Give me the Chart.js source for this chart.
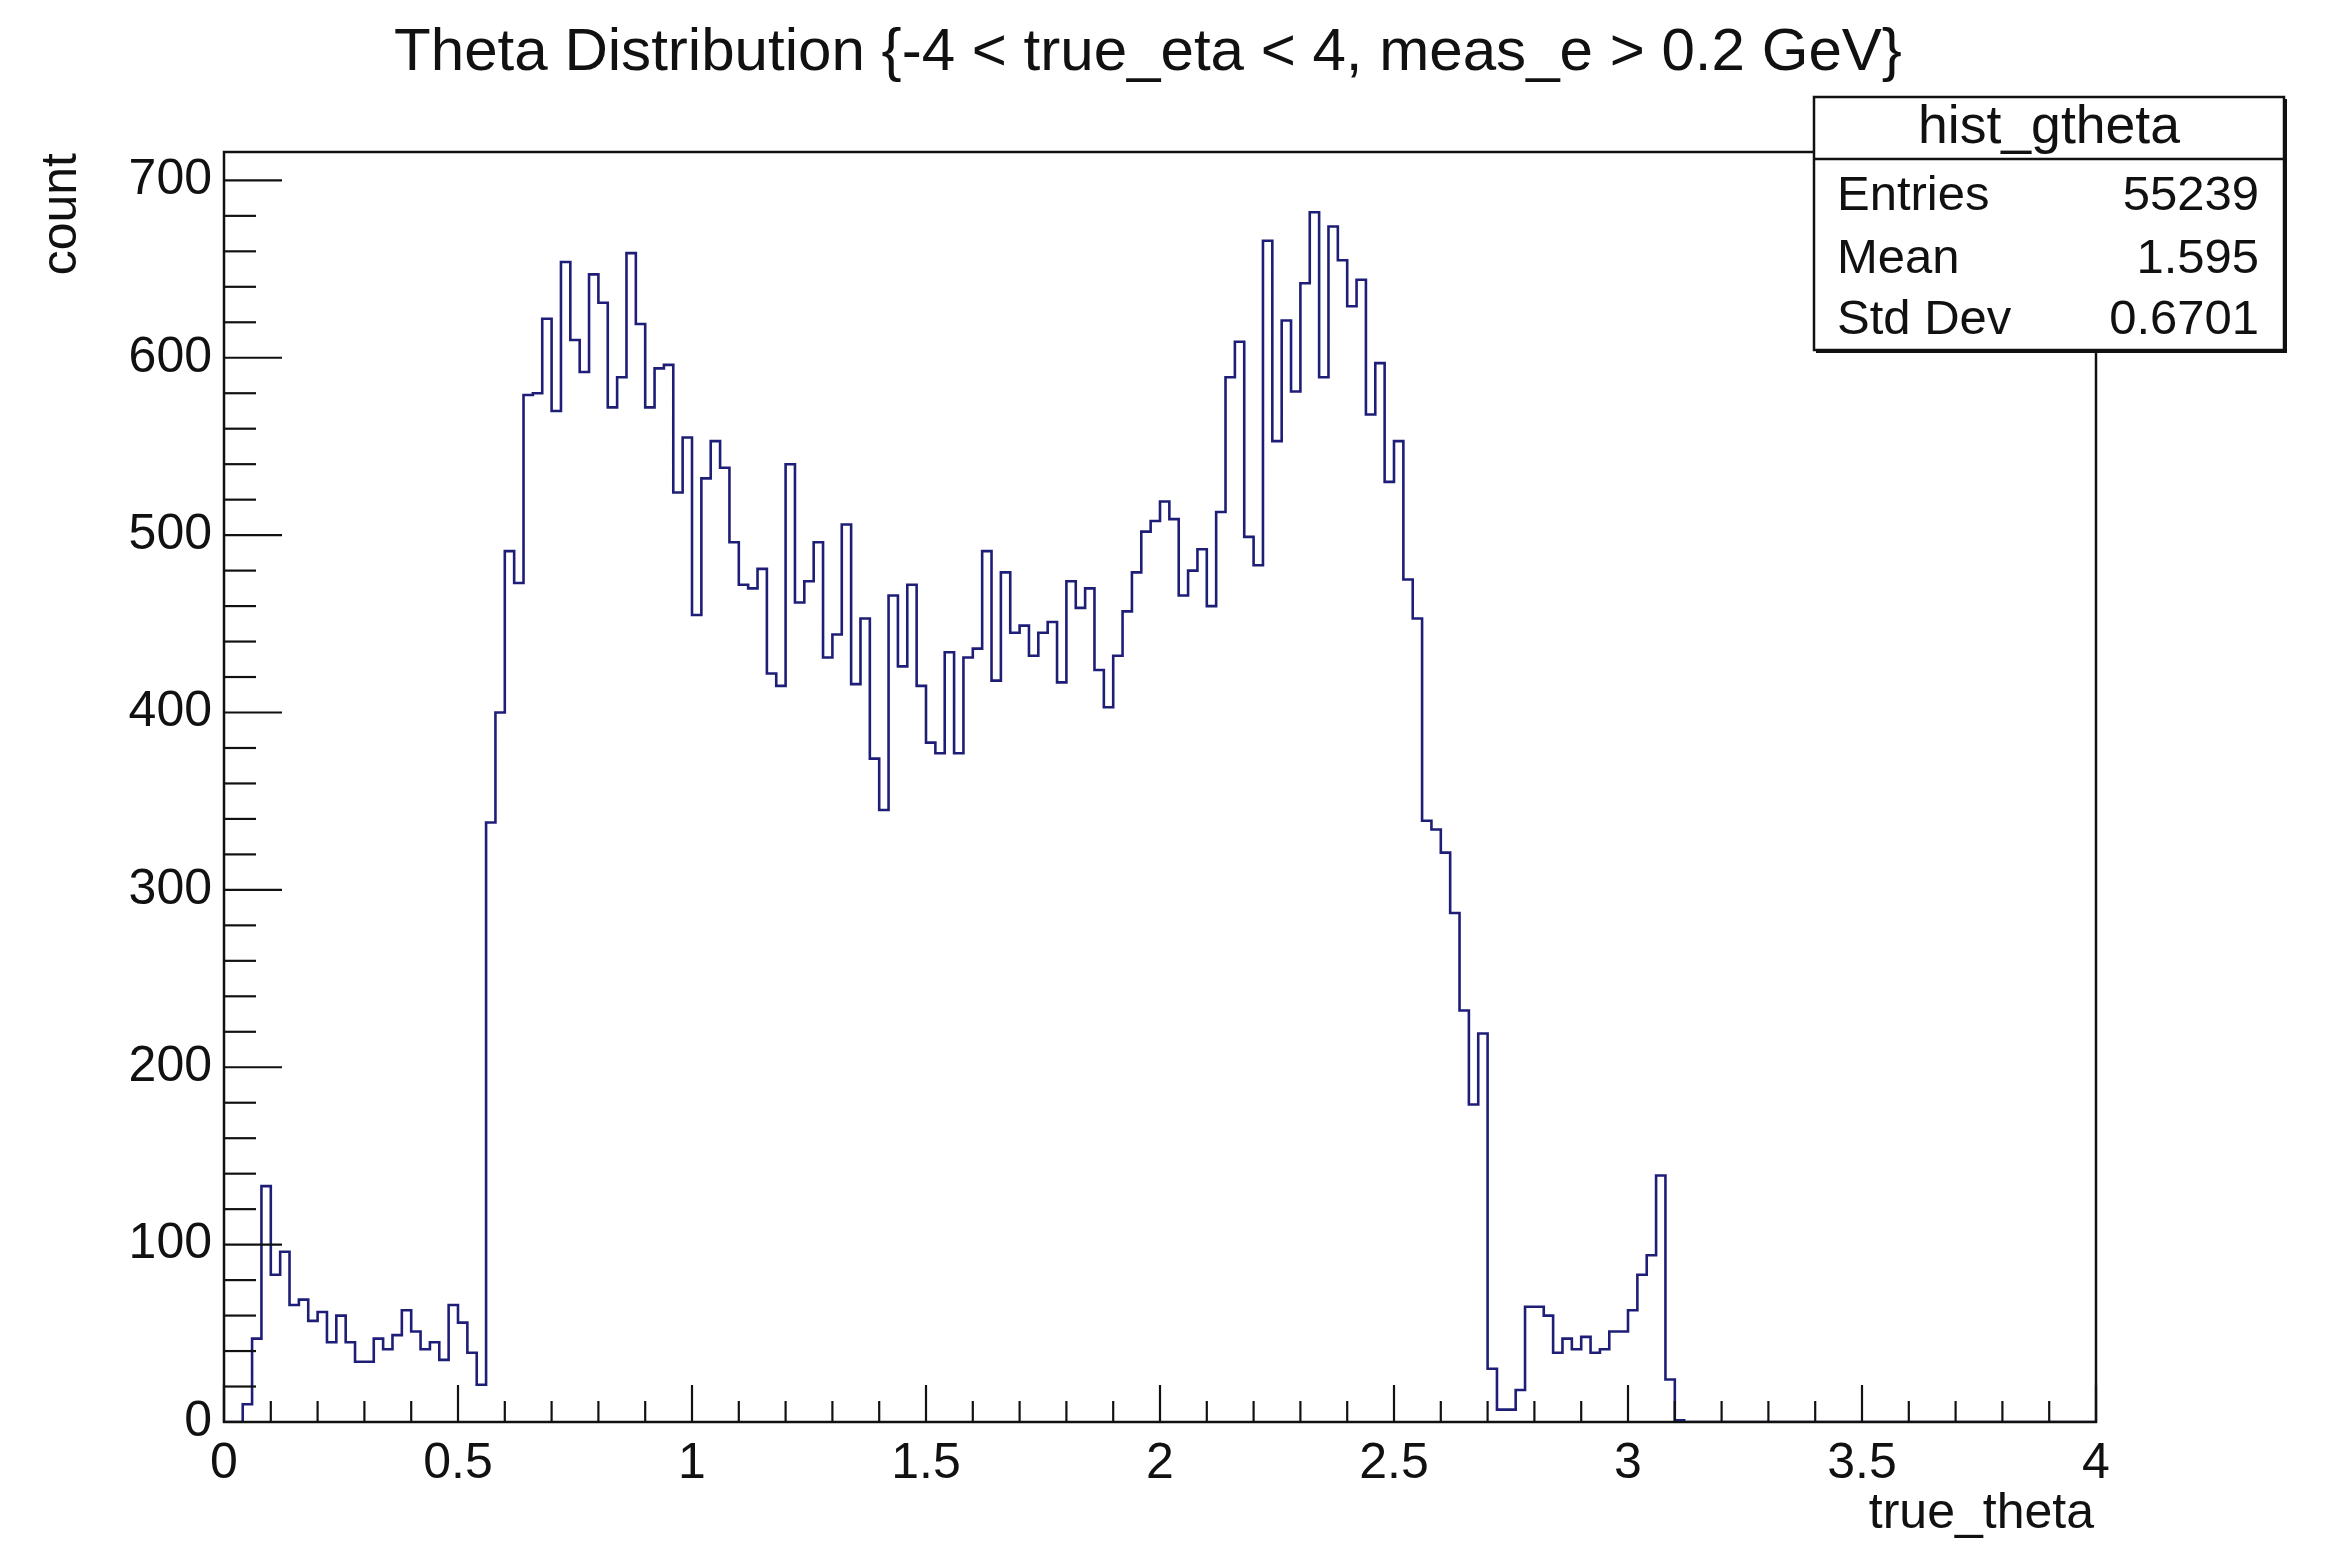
<!DOCTYPE html>
<html>
<head>
<meta charset="utf-8">
<script src="https://cdn.jsdelivr.net/npm/chart.js@4.4.1/dist/chart.umd.min.js"></script>
<style>
  html, body { margin: 0; padding: 0; background: #ffffff; }
  #wrap { width: 2330px; height: 1542px; }
</style>
</head>
<body>
<div id="wrap"><canvas id="c" width="2330" height="1542"></canvas></div>
<script>
// ---------------- data ----------------
const chartTitle = "Theta Distribution {-4 < true_eta < 4, meas_e > 0.2 GeV}";
const xAxisTitle = "true_theta";
const yAxisTitle = "count";
const histName = "hist_gtheta";
const statLabels = ["Entries", "Mean", "Std Dev"];
const statValues = ["55239", "1.595", "0.6701"];

const xMin = 0;
const xMax = 4;
const binWidth = 0.02;
const yMax = 716;
const xTickLabels = [0, 0.5, 1, 1.5, 2, 2.5, 3, 3.5, 4];
const yTickLabels = [0, 100, 200, 300, 400, 500, 600, 700];

// bin contents, bin i covers [i*binWidth, (i+1)*binWidth)
const counts = [
  0, 0, 10, 47, 133, 83, 96, 66, 69, 57,          // 0.00 - 0.18
  62, 45, 60, 45, 34, 34, 47, 41, 49, 63,         // 0.20 - 0.38
  51, 41, 45, 35, 66, 56, 39, 21, 338, 400,       // 0.40 - 0.58
  491, 473, 579, 580, 622, 570, 654, 610, 592, 647, // 0.60 - 0.78
  631, 572, 589, 659, 619, 572, 594, 596, 524, 555, // 0.80 - 0.98
  455, 532, 553, 538, 496, 472, 470, 481, 422, 415, // 1.00 - 1.18
  540, 462, 474, 496, 431, 444, 506, 416, 453, 374, // 1.20 - 1.38
  345, 466, 426, 472, 415, 383, 377, 434, 377, 431, // 1.40 - 1.58
  436, 491, 418, 479, 445, 449, 432, 445, 451, 417, // 1.60 - 1.78
  474, 459, 470, 424, 403, 432, 457, 479, 502, 508, // 1.80 - 1.98
  519, 509, 466, 480, 492, 460, 513, 589, 609, 499, // 2.00 - 2.18
  483, 666, 553, 621, 581, 642, 682, 589, 674, 655, // 2.20 - 2.38
  629, 644, 568, 597, 530, 553, 475, 453, 339, 334, // 2.40 - 2.58
  321, 287, 232, 179, 219, 30, 7, 7, 18, 65,        // 2.60 - 2.78
  65, 60, 39, 47, 41, 48, 39, 41, 51, 51,           // 2.80 - 2.98
  63, 83, 94, 139, 24, 1, 0, 0, 0, 0,               // 3.00 - 3.18
  0, 0, 0, 0, 0, 0, 0, 0, 0, 0,                     // 3.20 - 3.38
  0, 0, 0, 0, 0, 0, 0, 0, 0, 0,                     // 3.40 - 3.58
  0, 0, 0, 0, 0, 0, 0, 0, 0, 0,                     // 3.60 - 3.78
  0, 0, 0, 0, 0, 0, 0, 0, 0, 0                      // 3.80 - 3.98
];

// ---------------- build library table ----------------
const points = counts.map((c, i) => ({ x: +(xMin + i * binWidth).toFixed(4), y: c }));
points.push({ x: xMax, y: counts[counts.length - 1] });

const FONT = '"Liberation Sans", Arial, Helvetica, sans-serif';
const INK = '#111111';
const LINE = '#1e1e78';

const rootPlugin = {
  id: 'rootStyle',
  beforeDraw(chart) {
    const ctx = chart.ctx;
    ctx.save();
    ctx.fillStyle = '#ffffff';
    ctx.fillRect(0, 0, chart.width, chart.height);
    ctx.restore();
  },
  afterDraw(chart) {
    const ctx = chart.ctx;
    const xs = chart.scales.x, ys = chart.scales.y;
    const a = chart.chartArea;
    ctx.save();
    // frame
    ctx.strokeStyle = INK;
    ctx.lineWidth = 2.5;
    ctx.strokeRect(a.left, a.top, a.right - a.left, a.bottom - a.top);
    // x ticks (inside, upward)
    ctx.lineWidth = 2.2;
    for (let k = 0; k <= 40; k++) {
      const v = k * 0.1;
      const px = xs.getPixelForValue(v);
      const len = (k % 5 === 0) ? 37 : 21;
      ctx.beginPath();
      ctx.moveTo(px, a.bottom);
      ctx.lineTo(px, a.bottom - len);
      ctx.stroke();
    }
    // y ticks (inside, rightward)
    for (let v = 0; v <= yMax; v += 20) {
      const py = ys.getPixelForValue(v);
      const len = (v % 100 === 0) ? 58 : 32;
      ctx.beginPath();
      ctx.moveTo(a.left, py);
      ctx.lineTo(a.left + len, py);
      ctx.stroke();
    }
    // title (fit to reference width)
    ctx.fillStyle = INK;
    ctx.font = '100px ' + FONT;
    let w = ctx.measureText(chartTitle).width;
    let size = 100 * 1508 / w;
    ctx.font = size.toFixed(2) + 'px ' + FONT;
    ctx.textAlign = 'center';
    ctx.textBaseline = 'alphabetic';
    ctx.fillText(chartTitle, 1148, 70);

    // x axis title
    ctx.font = '50px ' + FONT;
    ctx.textAlign = 'right';
    ctx.fillText(xAxisTitle, 2094, 1528);

    // y axis title (rotated)
    ctx.save();
    ctx.translate(76, 153);
    ctx.rotate(-Math.PI / 2);
    ctx.textAlign = 'right';
    ctx.fillText(yAxisTitle, 0, 0);
    ctx.restore();

    // stats box
    const bx = 1814, by = 97, bw = 470, bh = 253;
    ctx.fillStyle = '#ffffff';
    ctx.fillRect(bx, by, bw, bh);
    ctx.strokeStyle = INK;
    ctx.lineWidth = 2.5;
    ctx.strokeRect(bx, by, bw, bh);
    ctx.lineWidth = 3;
    ctx.beginPath();
    ctx.moveTo(bx + 2, by + bh + 1.5);
    ctx.lineTo(bx + bw + 1.5, by + bh + 1.5);
    ctx.lineTo(bx + bw + 1.5, by + 2);
    ctx.stroke();
    ctx.lineWidth = 2.5;
    ctx.beginPath();
    ctx.moveTo(bx, 159);
    ctx.lineTo(bx + bw, 159);
    ctx.stroke();
    ctx.fillStyle = INK;
    ctx.font = '100px ' + FONT;
    w = ctx.measureText(histName).width;
    size = 100 * 262 / w;
    ctx.font = size.toFixed(2) + 'px ' + FONT;
    ctx.textAlign = 'center';
    ctx.fillText(histName, bx + bw / 2, 143);
    ctx.font = '49px ' + FONT;
    const rowsY = [210, 273, 334];
    for (let i = 0; i < statLabels.length; i++) {
      ctx.textAlign = 'left';
      ctx.fillText(statLabels[i], 1837, rowsY[i]);
      ctx.textAlign = 'right';
      ctx.fillText(statValues[i], 2259, rowsY[i]);
    }
    ctx.restore();
  }
};

new Chart(document.getElementById('c'), {
  type: 'line',
  data: {
    datasets: [{
      label: histName,
      data: points,
      stepped: 'before',
      borderColor: LINE,
      borderWidth: 2.6,
      pointRadius: 0,
      fill: false,
      tension: 0
    }]
  },
  options: {
    responsive: false,
    animation: false,
    devicePixelRatio: 1,
    layout: { padding: { top: 152, right: 234, left: 0, bottom: 0 } },
    plugins: { legend: { display: false }, tooltip: { enabled: false }, title: { display: false } },
    scales: {
      x: {
        type: 'linear',
        min: xMin,
        max: xMax,
        grid: { display: false, drawTicks: false },
        border: { display: false },
        afterFit(scale) { scale.height = 120; },
        afterBuildTicks(scale) { scale.ticks = xTickLabels.map(v => ({ value: v })); },
        ticks: {
          color: INK,
          font: { family: FONT, size: 50 },
          padding: 12,
          maxRotation: 0,
          autoSkip: false,
          callback: (v) => String(v)
        }
      },
      y: {
        type: 'linear',
        min: 0,
        max: yMax,
        grid: { display: false, drawTicks: false },
        border: { display: false },
        afterFit(scale) { scale.width = 224; },
        afterBuildTicks(scale) { scale.ticks = yTickLabels.map(v => ({ value: v })); },
        ticks: {
          color: INK,
          font: { family: FONT, size: 50 },
          padding: 12,
          autoSkip: false,
          callback: (v) => String(v)
        }
      }
    }
  },
  plugins: [rootPlugin]
});
</script>
</body>
</html>
